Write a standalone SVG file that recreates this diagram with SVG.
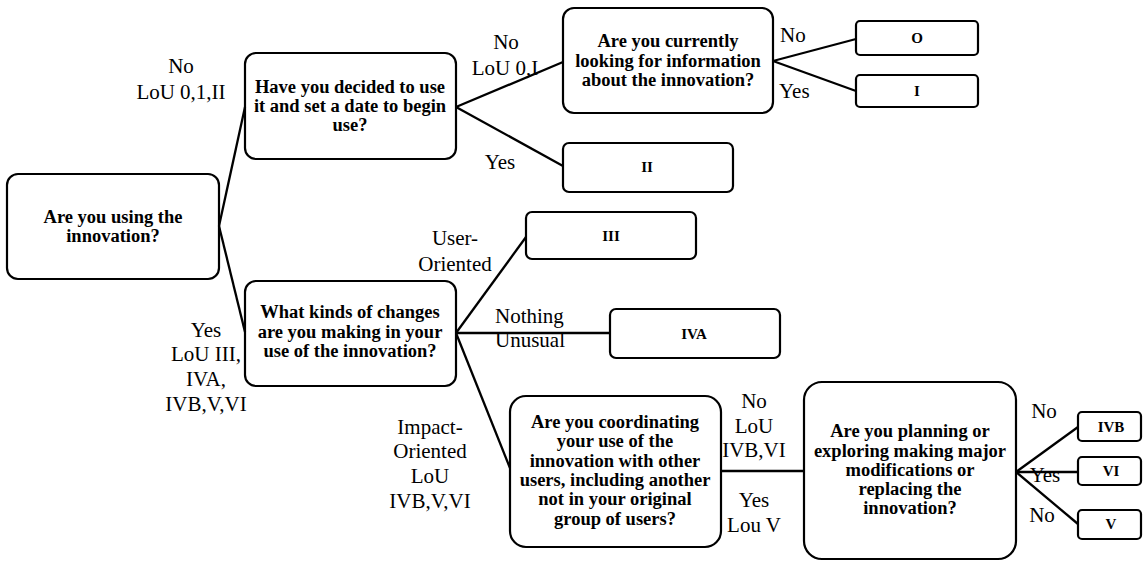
<svg xmlns="http://www.w3.org/2000/svg" width="1143" height="562" viewBox="0 0 1143 562" font-family="'Liberation Serif', 'Times New Roman', Tinos, 'DejaVu Serif', serif">
<style>
text{font-family:'Liberation Serif','Times New Roman',Tinos,'DejaVu Serif',serif;fill:#000}
.box{fill:#fff;stroke:#000;stroke-width:2.2}
.q{font-weight:bold;font-size:18.5px;text-anchor:middle}
.r{font-weight:bold;font-size:15px;text-anchor:middle}
.lbl{font-size:21px;text-anchor:middle}
.lbs{font-size:21px;text-anchor:start}
.edge{stroke:#000;stroke-width:2.3;fill:none}
</style>
<rect width="1143" height="562" fill="#fff"/>

<g id="node-using">
<rect class="box" x="7" y="174" width="212" height="105" rx="11"/>
<text class="q" x="113" y="223">Are you using the</text>
<text class="q" x="113" y="242">innovation?</text>
</g>

<g id="node-decided">
<rect class="box" x="245" y="53" width="211" height="106" rx="11"/>
<text class="q" x="350" y="93">Have you decided to use</text>
<text class="q" x="350" y="112">it and set a date to begin</text>
<text class="q" x="350" y="131">use?</text>
</g>

<g id="node-looking">
<rect class="box" x="563" y="8" width="210" height="105" rx="11"/>
<text class="q" x="668" y="47">Are you currently</text>
<text class="q" x="668" y="67">looking for information</text>
<text class="q" x="668" y="86">about the innovation?</text>
</g>

<g id="node-O">
<rect class="box" x="856" y="21" width="122" height="34" rx="4"/>
<text class="r" x="917" y="43">O</text>
</g>

<g id="node-I">
<rect class="box" x="856" y="75" width="122" height="32" rx="4"/>
<text class="r" x="917" y="96">I</text>
</g>

<g id="node-II">
<rect class="box" x="563" y="143" width="170" height="49" rx="6"/>
<text class="r" x="647" y="172">II</text>
</g>

<g id="node-changes">
<rect class="box" x="245" y="281" width="211" height="105" rx="11"/>
<text class="q" x="350" y="318">What kinds of changes</text>
<text class="q" x="350" y="338">are you making in your</text>
<text class="q" x="350" y="357">use of the innovation?</text>
</g>

<g id="node-III">
<rect class="box" x="526" y="212" width="170" height="47" rx="6"/>
<text class="r" x="611" y="241">III</text>
</g>

<g id="node-IVA">
<rect class="box" x="610" y="309" width="170" height="49" rx="6"/>
<text class="r" x="694" y="339">IVA</text>
</g>

<g id="node-coordinating">
<rect class="box" x="510" y="396" width="211" height="151" rx="16"/>
<text class="q" x="615" y="428">Are you coordinating</text>
<text class="q" x="615" y="447">your use of the</text>
<text class="q" x="615" y="467">innovation with other</text>
<text class="q" x="615" y="486">users, including another</text>
<text class="q" x="615" y="505">not in your original</text>
<text class="q" x="615" y="525">group of users?</text>
</g>

<g id="node-planning">
<rect class="box" x="804" y="382" width="212" height="177" rx="18"/>
<text class="q" x="910" y="437">Are you planning or</text>
<text class="q" x="910" y="457">exploring making major</text>
<text class="q" x="910" y="476">modifications or</text>
<text class="q" x="910" y="495">replacing the</text>
<text class="q" x="910" y="514">innovation?</text>
</g>

<g id="node-IVB">
<rect class="box" x="1078" y="412" width="63" height="29" rx="4"/>
<text class="r" x="1111" y="432">IVB</text>
</g>

<g id="node-VI">
<rect class="box" x="1078" y="457" width="63" height="28" rx="4"/>
<text class="r" x="1111" y="476">VI</text>
</g>

<g id="node-V">
<rect class="box" x="1078" y="510" width="63" height="29" rx="4"/>
<text class="r" x="1111" y="529">V</text>
</g>

<g id="edge-labels">
<text class="lbl" x="181" y="73">No</text>
<text class="lbl" x="181" y="99">LoU 0,1,II</text>
<text class="lbl" x="506" y="49">No</text>
<text class="lbl" x="505" y="75">LoU 0,I</text>
<text class="lbl" x="500" y="169">Yes</text>
<text class="lbs" x="780" y="42">No</text>
<text class="lbs" x="779" y="98">Yes</text>
<text class="lbl" x="206" y="337">Yes</text>
<text class="lbl" x="206" y="361">LoU III,</text>
<text class="lbl" x="206" y="386">IVA,</text>
<text class="lbl" x="206" y="411">IVB,V,VI</text>
<text class="lbl" x="455" y="245">User-</text>
<text class="lbl" x="455" y="271">Oriented</text>
<text class="lbs" x="495" y="323">Nothing</text>
<text class="lbs" x="495" y="347">Unusual</text>
<text class="lbl" x="430" y="434">Impact-</text>
<text class="lbl" x="430" y="458">Oriented</text>
<text class="lbl" x="430" y="483">LoU</text>
<text class="lbl" x="430" y="508">IVB,V,VI</text>
<text class="lbl" x="754" y="408">No</text>
<text class="lbl" x="754" y="433">LoU</text>
<text class="lbl" x="754" y="457">IVB,VI</text>
<text class="lbl" x="754" y="507">Yes</text>
<text class="lbl" x="754" y="532">Lou V</text>
<text class="lbl" x="1044" y="418">No</text>
<text class="lbl" x="1045" y="482">Yes</text>
<text class="lbl" x="1042" y="522">No</text>
</g>

<g id="connectors">
<line class="edge" x1="219" y1="226" x2="245" y2="107"/>
<line class="edge" x1="219" y1="226" x2="245" y2="332"/>
<line class="edge" x1="456" y1="107" x2="563" y2="62"/>
<line class="edge" x1="456" y1="107" x2="563" y2="166"/>
<line class="edge" x1="773" y1="61" x2="856" y2="39"/>
<line class="edge" x1="773" y1="61" x2="856" y2="91"/>
<line class="edge" x1="456" y1="333" x2="526" y2="237"/>
<line class="edge" x1="456" y1="333" x2="610" y2="333"/>
<line class="edge" x1="456" y1="333" x2="510" y2="468"/>
<line class="edge" x1="721" y1="471" x2="804" y2="471"/>
<line class="edge" x1="1016" y1="472" x2="1078" y2="427"/>
<line class="edge" x1="1016" y1="472" x2="1078" y2="472"/>
<line class="edge" x1="1016" y1="472" x2="1078" y2="524"/>
</g>
</svg>
